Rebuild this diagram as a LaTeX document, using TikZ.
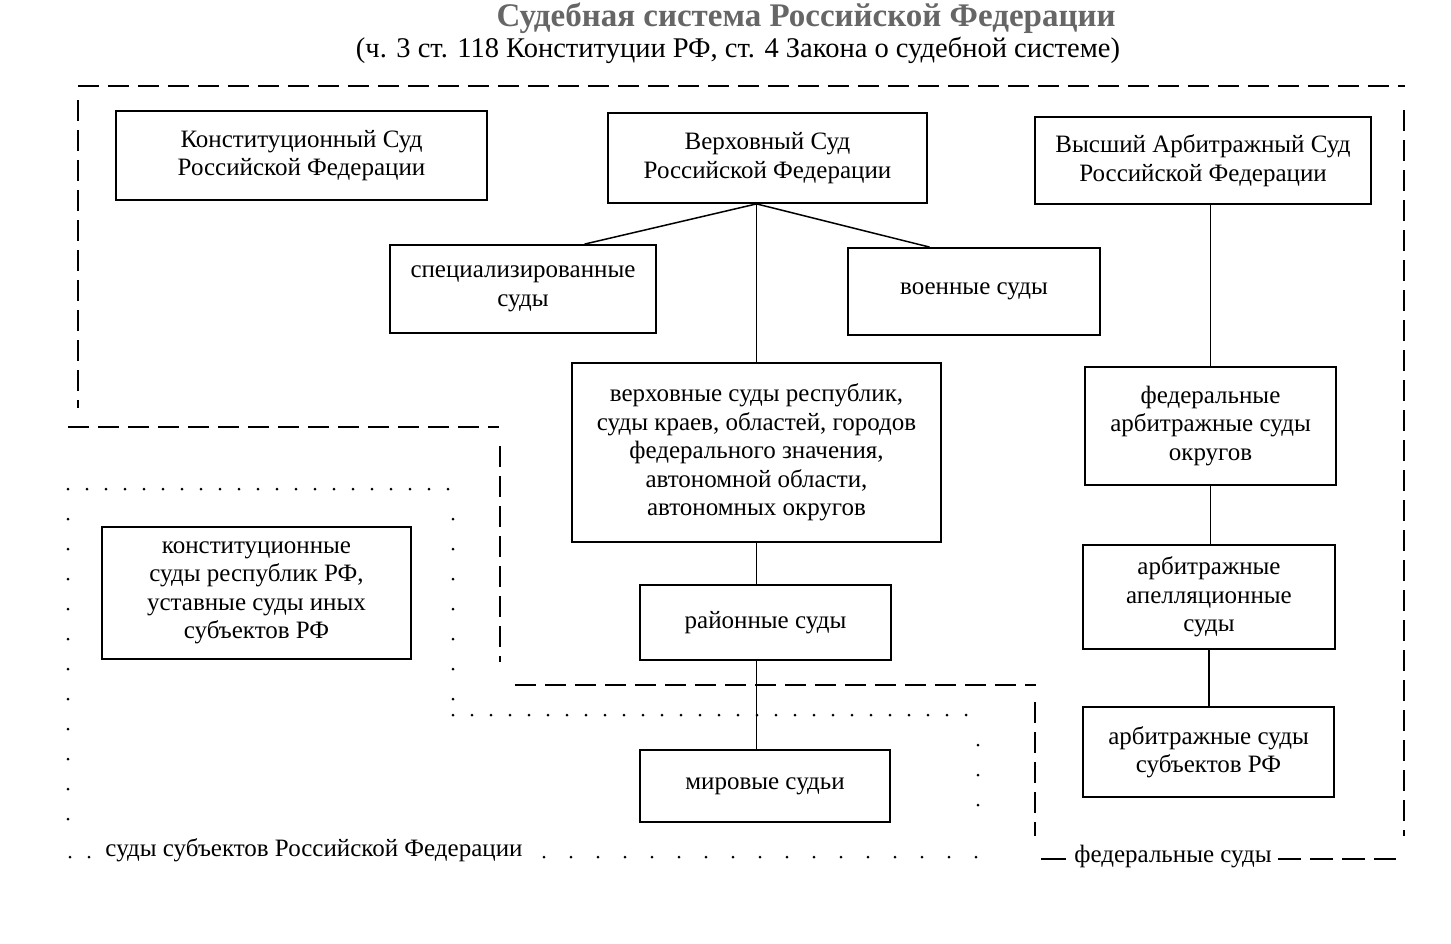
\documentclass[tikz,border=0pt]{standalone}
\usepackage{fontspec}
\setmainfont{Liberation Serif}
\usetikzlibrary{calc}
\newcommand\bfs{\fontsize{25}{28.5}\selectfont}
\begin{document}
\begin{tikzpicture}[x=1pt,y=-1pt,
  box/.style={draw, line width=1.8pt, align=center, inner sep=0pt, font=\bfs},
  conn/.style={line width=1.5pt},
  fedline/.style={line width=1.4pt, dash pattern=on 21pt off 9pt},
  subjdots/.style={line width=3pt, line cap=round, dash pattern=on 0pt off 19pt},
  subjdotsv/.style={line width=3pt, line cap=round, dash pattern=on 0pt off 30pt},
  lbl/.style={font=\bfs, inner sep=0pt}]
\useasboundingbox (0,0) rectangle (1451,943);
\fill[white] (0,0) rectangle (1451,943);

% title
\node[font=\fontsize{33}{36}\selectfont\bfseries, text=black!60, inner sep=0pt] (title) at (806,18) {Судебная система Российской Федерации};
\node[font=\fontsize{28.5}{32}\selectfont, inner sep=0pt] (subtitle) at (738,50) {(ч. 3 ст. 118 Конституции РФ, ст. 4 Закона о судебной системе)};

% boxes
\node[box, minimum width=371pt, minimum height=89pt] (kc) at (301.5,155.5) {Конституционный Суд\\Российской Федерации};
\node[box, minimum width=319pt, minimum height=90pt] (vs) at (767.5,158) {Верховный Суд\\Российской Федерации};
\node[box, minimum width=336pt, minimum height=87pt] (vas) at (1203,160.5) {Высший Арбитражный Суд\\Российской Федерации};
\node[box, minimum width=266pt, minimum height=88pt] (spec) at (523,289) {специализированные\\суды};
\node[box, minimum width=252pt, minimum height=87pt] (voen) at (974,291.5) {военные суды};
\node[box, minimum width=369pt, minimum height=179pt] (vsr) at (756.5,452.5) {верховные суды республик,\\суды краев, областей, городов\\федерального значения,\\автономной области,\\автономных округов};
\node[box, minimum width=251pt, minimum height=118pt] (fas) at (1210.5,426) {федеральные\\арбитражные суды\\округов};
\node[box, minimum width=252pt, minimum height=104pt] (aas) at (1209,597) {арбитражные\\апелляционные\\суды};
\node[box, minimum width=251pt, minimum height=75pt] (rs) at (765.5,622.5) {районные суды};
\node[box, minimum width=309pt, minimum height=132pt] (ks) at (256.5,593) {конституционные\\суды республик РФ,\\уставные суды иных\\субъектов РФ};
\node[box, minimum width=250pt, minimum height=72pt] (ms) at (765,786) {мировые судьи};
\node[box, minimum width=251pt, minimum height=90pt] (asr) at (1208.5,752) {арбитражные суды\\субъектов РФ};

% connectors
\coordinate (vsj) at (vs.south -| vsr.north);
\draw[conn] (vsj) -- ($(spec.north west)!0.73!(spec.north east)$);
\draw[conn] (vsj) -- ($(voen.north west)!0.325!(voen.north east)$);
\draw[conn] (vsj) -- (vsr.north);
\draw[conn] (vsr.south) -- (vsr.south |- rs.north);
\draw[conn] (rs.south -| vsr.south) -- (ms.north -| vsr.south);
\draw[conn] (vas.south -| fas.north) -- (fas.north);
\draw[conn] (fas.south) -- (fas.south |- aas.north);
\draw[conn] (aas.south) -- (aas.south |- asr.north);

% federal courts boundary (dashed)
\coordinate (f1) at (78,86);
\coordinate (f2) at (1405,86);
\draw[fedline] (f1) -- (f2);
\coordinate (f3) at (78,100);
\coordinate (f4) at (78,408);
\draw[fedline] (f3) -- (f4);
\coordinate (f5) at (68,427);
\coordinate (f6) at (499,427);
\draw[fedline] (f5) -- (f6);
\coordinate (f7) at (500,446);
\coordinate (f8) at (500,662);
\draw[fedline] (f7) -- (f8);
\coordinate (f9) at (515,685);
\coordinate (f10) at (1036,685);
\draw[fedline] (f9) -- (f10);
\coordinate (f11) at (1035,702);
\coordinate (f12) at (1035,836);
\draw[fedline] (f11) -- (f12);
\coordinate (f13) at (1404,110);
\coordinate (f14) at (1404,836);
\draw[fedline] (f13) -- (f14);
\node[lbl] (fedlbl) at (1173,857) {федеральные суды};
\coordinate (f15) at (1041,859);
\coordinate (f15b) at (1066,859);
\draw[line width=1.4pt] (f15) -- (f15b);
\coordinate (f16) at (1396,859);
\coordinate (f16a) at (1278,859);
\draw[line width=1.4pt, dash pattern=on 23pt off 9pt] (f16a) -- (f16);

% subjects courts boundary (dotted)
\coordinate (d1) at (68,489);
\coordinate (d2) at (453,489);
\draw[subjdots] (d1) -- (d2);
\coordinate (d3) at (453,519);
\coordinate (d4) at (453,700);
\draw[subjdotsv] (d3) -- (d4);
\coordinate (d5) at (453,715);
\coordinate (d6) at (980,715);
\draw[subjdots] (d5) -- (d6);
\coordinate (d7) at (978,745);
\coordinate (d8) at (978,830);
\draw[subjdotsv] (d7) -- (d8);
\coordinate (d9) at (68,519);
\coordinate (d10) at (68,830);
\draw[subjdotsv] (d9) -- (d10);
\node[lbl] (subjlbl) at (314,850) {суды субъектов Российской Федерации};
\coordinate (d11) at (70,857);
\coordinate (d12) at (90,857);
\draw[subjdots] (d11) -- (d12);
\coordinate (d13) at (544,857);
\coordinate (d14) at (980,857);
\draw[line width=3pt, line cap=round, dash pattern=on 0pt off 27pt] (d13) -- (d14);
\end{tikzpicture}
\end{document}
